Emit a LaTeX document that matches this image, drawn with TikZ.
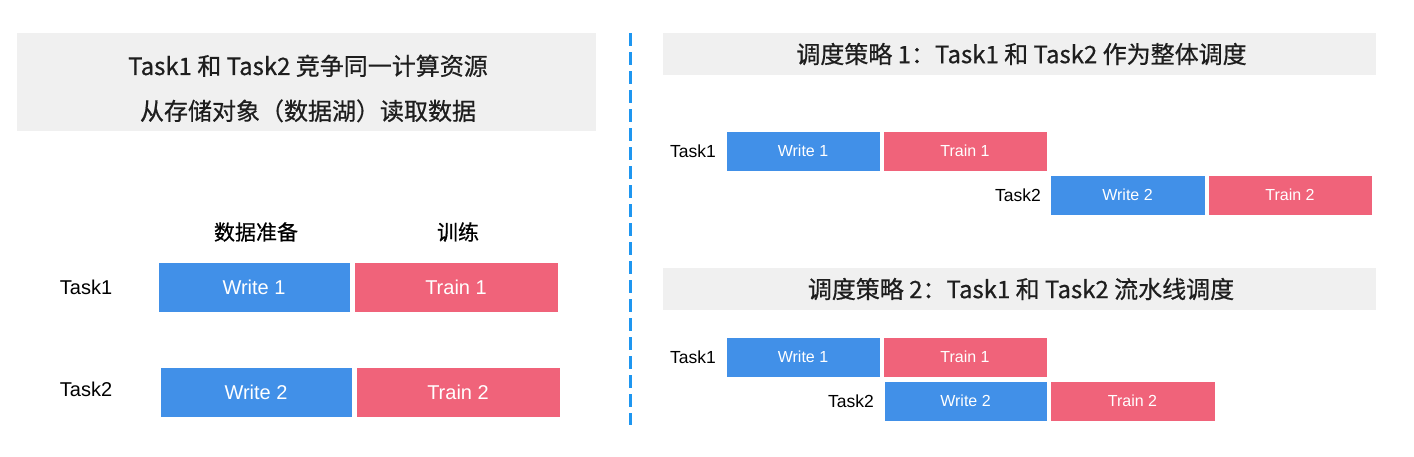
\documentclass[tikz,border=0pt]{standalone}
\usepackage{fontspec}
\setmainfont{Liberation Sans}
\newfontfamily\cjk[RawFeature={embolden=0.6}]{Noto Sans CJK SC}
\definecolor{wblue}{RGB}{65,144,232}
\definecolor{tpink}{RGB}{240,99,122}
\definecolor{hdrgray}{RGB}{240,240,240}
\definecolor{divblue}{RGB}{30,150,240}
\definecolor{ink}{RGB}{30,30,30}
\tikzset{
  hdrbox/.style={fill=hdrgray, draw=none, inner sep=0pt},
  hdrtext/.style={inner sep=0pt, text=ink, align=center, font=\cjk\fontsize{24}{45}\selectfont},
  coltext/.style={inner sep=0pt, text=black, font=\cjk\fontsize{21}{24}\selectfont},
  blk/.style={inner sep=0pt, text=white, draw=white, line width=0.6pt},
  wbig/.style={blk, fill=wblue, minimum height=50pt, font=\fontsize{20}{24}\selectfont},
  tbig/.style={blk, fill=tpink, minimum height=50pt, font=\fontsize{20}{24}\selectfont},
  wsm/.style={blk, fill=wblue, minimum height=40pt, font=\fontsize{16}{19}\selectfont},
  tsm/.style={blk, fill=tpink, minimum height=40pt, font=\fontsize{16}{19}\selectfont},
  lblbig/.style={inner sep=0pt, text=black, font=\fontsize{20}{24}\selectfont},
  lblsm/.style={inner sep=0pt, text=black, anchor=east, font=\fontsize{17.5}{20}\selectfont},
}
\begin{document}
\begin{tikzpicture}[x=1pt,y=-1pt]
\useasboundingbox (0,0) rectangle (1414,456);

% left header
\node[hdrbox, minimum width=579pt, minimum height=98pt] (lhdr) at (306.5,82) {};
\node[hdrtext] (lhdrtxt) at (308,88.5) {Task1 和 Task2 竞争同一计算资源\\从存储对象（数据湖）读取数据};

% column labels
\node[coltext] (colprep) at (256,232) {数据准备};
\node[coltext] (coltrain) at (458,232) {训练};

% left grid
\node[lblbig] (lt1) at (86,287) {Task1};
\node[wbig, minimum width=192pt] (lw1) at (254,287) {Write 1};
\node[tbig, minimum width=204pt] (ltr1) at (456,287) {Train 1};
\node[lblbig] (lt2) at (86,389) {Task2};
\node[wbig, minimum width=192pt] (lw2) at (256,392) {Write 2};
\node[tbig, minimum width=204pt] (ltr2) at (458,392) {Train 2};

% divider
\draw[divblue, line width=3pt, dash pattern=on 13pt off 6pt] (630,33) -- (630,425);

% right header 1
\node[hdrbox, minimum width=713pt, minimum height=42pt] (rh1) at (1019.5,54) {};
\node[hdrtext] (rh1txt) at (1021.5,54) {调度策略 1：Task1 和 Task2 作为整体调度};
\node[lblsm] (r1t1) at (716,151) {Task1};
\node[wsm, minimum width=154pt] (r1w1) at (803,151) {Write 1};
\node[tsm, minimum width=164pt] (r1tr1) at (965,151) {Train 1};
\node[lblsm] (r1t2) at (1041,195) {Task2};
\node[wsm, minimum width=155pt] (r1w2) at (1127.5,195) {Write 2};
\node[tsm, minimum width=164pt] (r1tr2) at (1290,195) {Train 2};

% right header 2
\node[hdrbox, minimum width=713pt, minimum height=42pt] (rh2) at (1019.5,288.5) {};
\node[hdrtext] (rh2txt) at (1021,289) {调度策略 2：Task1 和 Task2 流水线调度};
\node[lblsm] (r2t1) at (716,357) {Task1};
\node[wsm, minimum width=154pt] (r2w1) at (803,357) {Write 1};
\node[tsm, minimum width=164pt] (r2tr1) at (965,357) {Train 1};
\node[lblsm] (r2t2) at (874,401) {Task2};
\node[wsm, minimum width=163pt] (r2w2) at (965.5,401) {Write 2};
\node[tsm, minimum width=165pt] (r2tr2) at (1132.5,401) {Train 2};
\end{tikzpicture}
\end{document}
